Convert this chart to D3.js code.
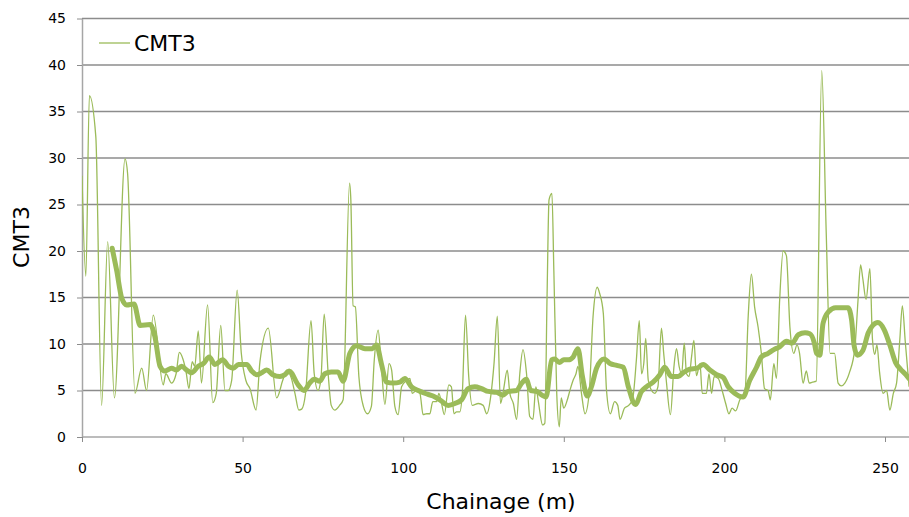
<!DOCTYPE html>
<html>
<head>
<meta charset="utf-8">
<script src="https://cdn.jsdelivr.net/npm/d3@7"></script>
<style>
  html, body { margin: 0; padding: 0; background: #ffffff; }
  svg { display: block; }
  text { font-family: "DejaVu Sans", Verdana, sans-serif; fill: #000; }
</style>
</head>
<body>
<svg id="chart" width="909" height="517"></svg>
<script>
// CMT3 readings along the chainage (m)
const chainage = [0, 1.2, 2.3, 4.3, 6.1, 8.0, 10.1, 13.4, 14.2, 16.5, 18.6, 20.1, 22.2, 25.3, 26.1, 27.9, 29.3, 30.3, 31.5, 32.4,
  33.3, 34.3, 35.1, 36.2, 37.2, 39.1, 40.7, 41.8, 43.2, 44.5, 45.5, 46.6, 48.3, 49.6, 51.0, 52.3, 54.2, 55.4, 58.0, 60.6,
  62.5, 63.7, 65.2, 66.3, 67.5, 68.4, 69.6, 71.3, 72.3, 73.5, 74.4, 75.4, 76.7, 77.6, 78.7, 80.2, 81.3, 83.3, 83.7, 84.4,
  85.1, 86.2, 87.6, 88.9, 90.1, 91.0, 92.2, 93.2, 94.3, 95.6, 96.4, 97.4, 98.4, 99.5, 101.1, 102.1, 102.8, 104.2, 105.2, 106.2,
  107.3, 108.3, 109.2, 110.4, 111.1, 111.9, 112.8, 114.2, 115.0, 115.8, 116.6, 117.6, 118.4, 119.4, 120.4, 121.5, 123.4, 124.9, 126.0, 127.3,
  128.3, 129.3, 130.3, 131.2, 132.4, 133.2, 134.3, 135.3, 136.3, 137.3, 138.4, 139.4, 140.4, 141.3, 142.0, 143.4, 144.1, 144.8, 145.4, 146.3,
  146.9, 147.8, 148.6, 149.2, 150.0, 151.1, 151.9, 152.9, 153.8, 154.4, 155.5, 156.6, 157.9, 159.1, 160.4, 161.2, 162.3, 163.3, 164.5, 165.8,
  166.8, 167.5, 168.9, 170.2, 171.4, 172.6, 173.5, 174.2, 174.9, 175.5, 176.3, 177.3, 178.3, 179.3, 180.4, 181.1, 181.9, 183.2, 184.3, 185.1,
  185.9, 186.7, 187.5, 188.2, 189.0, 189.8, 190.5, 191.3, 192.4, 193.1, 194.4, 195.2, 196.0, 196.8, 198.1, 199.3, 200.4, 201.4, 202.4, 203.5,
  204.8, 206.4, 207.4, 208.4, 209.4, 210.5, 211.5, 212.5, 213.6, 214.3, 215.4, 216.2, 217.2, 218.3, 219.3, 220.4, 221.6, 222.6, 223.4, 224.5,
  225.5, 226.4, 227.4, 228.6, 230.3, 231.7, 232.9, 234.3, 235.4, 236.4, 237.5, 239.0, 240.6, 241.6, 242.4, 243.1, 244.1, 245.3, 246.1, 246.8,
  247.5, 248.3, 249.4, 250.5, 251.5, 252.6, 253.6, 254.6, 255.4, 256.3, 257.5];
const cmt3 = [28.1, 17.3, 36.7, 32.3, 3.4, 21.0, 4.2, 29.9, 28.3, 4.7, 7.4, 5.0, 13.1, 5.6, 6.8, 5.8, 6.8, 9.1, 8.3, 7.0,
  5.2, 8.1, 7.6, 11.4, 5.8, 14.2, 3.7, 4.7, 12.0, 5.0, 5.0, 6.1, 15.8, 9.0, 6.1, 5.2, 2.9, 8.1, 11.7, 4.2,
  6.1, 7.2, 6.3, 4.7, 2.9, 3.0, 4.7, 12.5, 6.8, 5.0, 6.3, 13.2, 6.5, 3.4, 2.9, 3.4, 4.0, 27.3, 25.5, 14.1,
  14.0, 6.5, 3.3, 2.5, 3.3, 8.3, 11.5, 7.6, 3.5, 7.9, 7.2, 3.3, 2.4, 5.4, 6.1, 6.3, 4.7, 5.0, 4.7, 2.4,
  2.5, 2.5, 3.8, 3.8, 4.7, 3.7, 2.4, 5.6, 5.4, 2.5, 2.7, 2.7, 4.7, 13.1, 6.5, 3.4, 3.6, 3.4, 2.5, 4.5,
  8.0, 13.0, 3.6, 5.0, 7.2, 4.7, 3.6, 1.9, 6.8, 9.4, 6.8, 2.2, 1.9, 5.4, 4.0, 1.3, 1.5, 15.4, 25.5, 26.2,
  17.9, 4.7, 1.1, 4.2, 3.1, 4.0, 5.0, 6.1, 6.8, 7.6, 4.7, 2.5, 4.7, 12.9, 16.1, 15.4, 13.3, 5.0, 2.5, 3.8,
  3.4, 1.9, 3.1, 3.4, 4.0, 8.3, 12.5, 6.8, 7.9, 10.6, 6.1, 5.0, 4.7, 5.4, 11.7, 9.0, 6.1, 2.4, 7.6, 9.5,
  7.6, 6.8, 10.1, 6.8, 6.5, 8.7, 10.4, 6.6, 7.9, 4.7, 4.7, 6.8, 4.7, 6.5, 6.3, 5.0, 3.6, 2.5, 3.1, 2.8,
  4.0, 4.7, 12.9, 17.5, 14.0, 11.8, 9.0, 5.2, 5.0, 4.0, 7.9, 6.3, 14.7, 20.0, 19.5, 11.8, 9.0, 9.9, 9.0, 5.8,
  7.1, 5.8, 5.9, 6.0, 39.4, 22.0, 9.0, 9.0, 5.8, 5.5, 5.8, 7.0, 9.5, 14.7, 18.5, 17.0, 14.8, 18.1, 10.5, 8.9,
  9.9, 7.0, 4.7, 5.0, 2.9, 4.7, 5.8, 10.4, 14.1, 10.3, 5.4];

// Moving-average trend of CMT3
const trendChainage = [9.4, 10.8, 12.4, 13.9, 16.2, 18.1, 21.2, 22.7, 24.3, 25.8, 27.9, 29.4, 31.0, 32.6, 34.1, 36.2, 37.8, 39.6, 41.4, 43.8,
  45.6, 47.1, 48.7, 51.3, 52.8, 54.4, 55.9, 57.5, 59.4, 61.6, 63.2, 64.5, 67.3, 69.1, 70.9, 72.3, 74.0, 75.6, 77.6, 79.7,
  81.3, 83.4, 85.5, 88.1, 90.4, 91.7, 93.2, 94.8, 96.9, 99.0, 100.5, 102.6, 104.7, 106.7, 109.3, 111.4, 114.0, 116.1, 118.2, 120.2,
  122.3, 124.4, 126.5, 129.1, 131.0, 132.7, 135.3, 136.9, 138.3, 139.7, 141.6, 143.2, 144.5, 146.2, 147.2, 148.6, 150.0, 151.4, 152.9, 154.4,
  155.8, 157.3, 158.6, 160.2, 162.5, 164.4, 166.5, 168.5, 170.1, 172.3, 174.2, 175.7, 177.8, 179.9, 181.4, 183.5, 185.6, 187.1, 189.2, 191.5,
  193.4, 195.5, 197.6, 199.6, 201.2, 203.2, 205.8, 207.9, 210.0, 211.5, 213.6, 215.4, 217.2, 219.3, 221.1, 223.0, 225.1, 226.6, 228.0, 228.7,
  229.7, 230.7, 232.5, 234.6, 236.5, 238.5, 239.6, 240.4, 241.4, 243.1, 244.8, 246.2, 247.8, 249.8, 251.5, 253.3, 254.8, 256.5, 257.4];
const cmt3Trend = [20.3, 17.9, 14.9, 14.2, 14.3, 12.0, 12.1, 10.8, 7.6, 7.1, 7.4, 7.2, 7.6, 7.2, 6.9, 7.6, 7.9, 8.6, 7.8, 8.3,
  7.6, 7.4, 7.8, 7.8, 7.1, 6.7, 6.9, 7.2, 6.7, 6.5, 6.7, 7.1, 5.6, 5.0, 5.8, 6.2, 6.0, 6.8, 7.0, 7.0,
  6.0, 9.0, 9.8, 9.5, 9.5, 9.9, 7.9, 5.9, 5.8, 5.9, 6.3, 5.4, 5.0, 4.7, 4.4, 4.0, 3.4, 3.6, 4.0, 5.2,
  5.4, 5.2, 4.9, 4.8, 4.5, 4.9, 5.0, 5.8, 6.2, 5.0, 4.9, 4.5, 4.3, 8.3, 8.4, 8.0, 8.3, 8.3, 8.6, 9.5,
  6.5, 4.4, 5.4, 7.4, 8.4, 7.9, 7.7, 7.5, 5.4, 3.5, 4.9, 5.4, 5.9, 6.7, 7.5, 6.5, 6.5, 6.9, 7.3, 7.4,
  7.8, 7.2, 6.7, 6.4, 5.4, 4.7, 4.3, 6.1, 7.5, 8.6, 9.0, 9.4, 9.7, 10.3, 10.1, 11.0, 11.2, 11.1, 10.1, 9.0,
  8.8, 12.2, 13.5, 13.9, 13.9, 13.9, 12.6, 9.8, 8.8, 9.3, 11.2, 12.0, 12.3, 11.5, 9.9, 8.0, 7.3, 6.7, 6.3];

const xTicks = [0, 50, 100, 150, 200, 250];
const yTicks = [0, 5, 10, 15, 20, 25, 30, 35, 40, 45];

const seriesName = "CMT3";
const xTitle = "Chainage (m)";
const yTitle = "CMT3";
const lineColor = "#9bbb59";

const svg = d3.select("#chart");
const plot = { left: 82, top: 18.5, bottom: 437, right: 909 };

const x = d3.scaleLinear().domain([0, 250]).range([plot.left, 885]);
const y = d3.scaleLinear().domain([0, 45]).range([plot.bottom, plot.top]);

svg.append("defs").append("clipPath").attr("id", "plotClip")
  .append("rect")
  .attr("x", plot.left).attr("y", 0)
  .attr("width", plot.right - plot.left).attr("height", plot.bottom);

// horizontal gridlines
svg.append("g")
  .selectAll("line")
  .data(yTicks.filter(d => d > 0))
  .join("line")
  .attr("x1", plot.left).attr("x2", plot.right)
  .attr("y1", d => y(d)).attr("y2", d => y(d))
  .attr("stroke", "#8c8c8c").attr("stroke-width", 1.3);

// y axis
const yAxis = svg.append("g")
  .attr("transform", `translate(${plot.left},0)`)
  .call(d3.axisLeft(y).tickValues(yTicks).tickSize(5).tickPadding(11).tickSizeOuter(0));
yAxis.select(".domain").attr("stroke", "#a6a6a6").attr("stroke-width", 1.5);
yAxis.selectAll(".tick line").attr("stroke", "#8c8c8c");
yAxis.selectAll(".tick text").style("font-size", "14px").style("font-family", "DejaVu Sans, sans-serif").attr("fill", "#000");

// x axis
const xAxis = svg.append("g")
  .attr("transform", `translate(0,${plot.bottom})`)
  .call(d3.axisBottom(x).tickValues(xTicks).tickSize(5).tickPadding(21).tickSizeOuter(0));
xAxis.select(".domain").attr("d", `M${plot.left},0H${plot.right}`).attr("stroke", "#a6a6a6").attr("stroke-width", 1.5);
xAxis.selectAll(".tick line").attr("stroke", "#8c8c8c");
xAxis.selectAll(".tick text").style("font-size", "14px").style("font-family", "DejaVu Sans, sans-serif").attr("fill", "#000");

const g = svg.append("g").attr("clip-path", "url(#plotClip)");

// raw series (thin)
const raw = chainage.map((c, i) => [c, cmt3[i]]);
g.append("path")
  .datum(raw)
  .attr("fill", "none")
  .attr("stroke", lineColor)
  .attr("stroke-width", 1.3)
  .attr("stroke-linejoin", "round")
  .attr("d", d3.line().x(d => x(d[0])).y(d => y(d[1])).curve(d3.curveMonotoneX));

// moving average (thick)
const trend = trendChainage.map((c, i) => [c, cmt3Trend[i]]);
g.append("path")
  .datum(trend)
  .attr("fill", "none")
  .attr("stroke", lineColor)
  .attr("stroke-width", 5)
  .attr("stroke-linejoin", "round")
  .attr("stroke-linecap", "round")
  .attr("d", d3.line().x(d => x(d[0])).y(d => y(d[1])).curve(d3.curveMonotoneX));

// legend
const lg = svg.append("g");
lg.append("line")
  .attr("x1", 99).attr("x2", 130).attr("y1", 43).attr("y2", 43)
  .attr("stroke", lineColor).attr("stroke-width", 1.3);
lg.append("text")
  .attr("x", 134).attr("y", 51)
  .style("font-size", "22px")
  .text(seriesName);

// axis titles
svg.append("text")
  .attr("x", 501).attr("y", 509)
  .attr("text-anchor", "middle")
  .style("font-size", "22px")
  .text(xTitle);

svg.append("text")
  .attr("transform", `translate(29,237) rotate(-90)`)
  .attr("text-anchor", "middle")
  .style("font-size", "22px")
  .text(yTitle);
</script>
</body>
</html>
